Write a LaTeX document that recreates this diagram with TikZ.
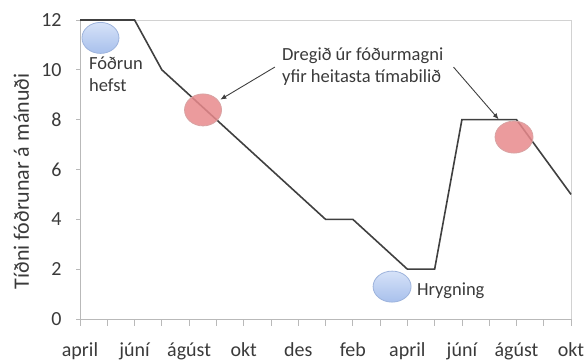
\documentclass[tikz,border=0pt]{standalone}
\usepackage{fontspec}
\setmainfont{Carlito}
\usepackage{tikz}
\usetikzlibrary{arrows.meta,shapes.geometric}
\definecolor{ln}{HTML}{404040}
\definecolor{txt}{HTML}{3A3A3A}
\definecolor{bltop}{HTML}{D6E2F8}
\definecolor{blbot}{HTML}{A8C0EC}
\definecolor{blbd}{HTML}{9DB3DC}
\definecolor{hotfill}{HTML}{E8898C}
\definecolor{hotbd}{HTML}{D8A3A3}

\begin{document}
\begin{tikzpicture}[x=27.28pt,y=24.92pt,
  ax/.style={draw=gray!55,line width=0.8pt},
  frm/.style={draw=gray!35,line width=0.8pt},
  ylbl/.style={font=\fontsize{20}{24}\selectfont,text=txt,inner sep=0pt},
  xlbl/.style={font=\fontsize{20}{24}\selectfont,text=txt,inner sep=0pt,anchor=base},
  ytitle/.style={font=\fontsize{22}{26}\selectfont,text=txt,inner sep=0pt,rotate=90},
  ann/.style={font=\fontsize{18.5}{22}\selectfont,text=txt,align=left,inner sep=0pt,anchor=west},
  blu/.style={ellipse,draw=blbd,top color=bltop,bottom color=blbot,line width=0.8pt,
    minimum width=36pt,minimum height=31pt,inner sep=0pt},
  hot/.style={ellipse,draw=hotbd,fill=hotfill,fill opacity=0.85,line width=0.8pt,
    minimum width=37pt,minimum height=32pt,inner sep=0pt},
  dataline/.style={draw=ln,line width=1.6pt},
  arr/.style={-{Latex[length=6pt,width=5pt]},draw=ln,line width=0.9pt}]
  \useasboundingbox (-2.9326,-1.6453) rectangle (18.475,12.801);
  % plot area and axes
  \draw[frm] (0,12) -- (18,12) -- (18,0);
  \draw[ax] (0,0) -- (0,12);
  \draw[ax] (0,0) -- (18,0);
  \foreach \v in {0,2,...,12}
    \draw[ax] (0,\v) -- ++(-4pt,0) node[ylbl,left=14pt] {\v};
  \foreach \i in {0,...,18}
    \draw[ax] (\i,0) -- ++(0,-7pt);
  \foreach \m [count=\k from 0] in {april,júní,ágúst,okt,des,feb,april,júní,ágúst,okt}
    \node[xlbl] (m\k) at ([yshift=-37pt]2*\k,0) {\m};
  \node[ytitle] (ytl) at ([xshift=-58.5pt]0,5.52) {Tíðni fóðrunar á mánuði};
  % data
  \draw[dataline] (0,12) -- (2,12) -- (3,10) -- (9,4) -- (10,4) -- (12,2)
    -- (13,2) -- (14,8) -- (16,8) -- (18,5);
  % markers
  \node[blu,minimum width=37pt] (start) at (0.75,11.28) {};
  \node[blu,minimum width=38pt] (spawn) at (11.44,1.30) {};
  \node[hot] (cut1) at (4.51,8.39) {};
  \node[hot,minimum width=38pt] (cut2) at (15.91,7.30) {};
  % labels
  \node[ann] (feed) at (0.33,9.82) {Fóðrun\\hefst};
  \node[ann] (less) at (7.40,10.11) {Dregið úr fóðurmagni\\yfir heitasta tímabilið};
  \node[ann] (spwn) at (12.35,1.12) {Hrygning};
  \draw[arr,shorten >=2pt] ([xshift=-7pt]less.west) -- (cut1);
  \draw[arr,shorten >=6pt] ([xshift=10pt]less.east) -- (cut2);
\end{tikzpicture}
\end{document}
